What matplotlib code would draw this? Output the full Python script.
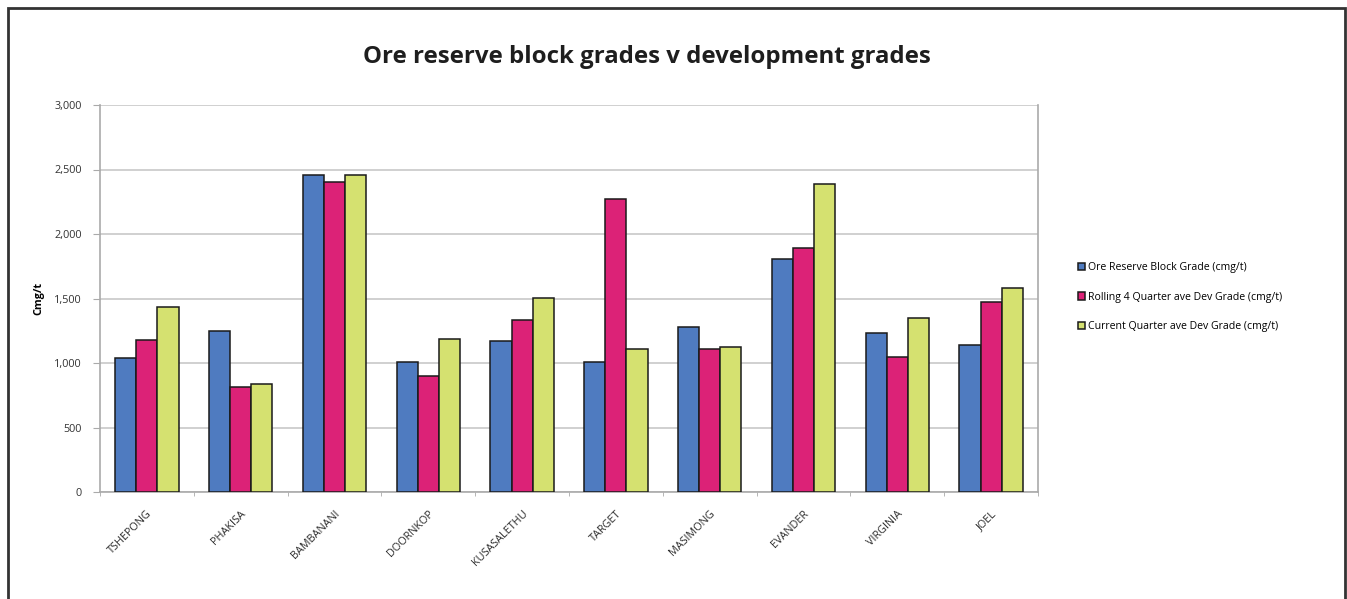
import matplotlib
matplotlib.use("Agg")
import matplotlib.pyplot as plt
import numpy as np
from matplotlib.patches import Rectangle
from matplotlib.ticker import FuncFormatter, FixedLocator

categories = ["TSHEPONG", "PHAKISA", "BAMBANANI", "DOORNKOP", "KUSASALETHU",
              "TARGET", "MASIMONG", "EVANDER", "VIRGINIA", "JOEL"]
ore_reserve = [1040, 1250, 2460, 1010, 1170, 1010, 1280, 1810, 1230, 1140]
rolling_4q = [1180, 815, 2405, 900, 1330, 2275, 1110, 1890, 1050, 1470]
current_q = [1435, 835, 2460, 1185, 1505, 1110, 1125, 2390, 1350, 1585]
series_names = ["Ore Reserve Block Grade (cmg/t)",
                "Rolling 4 Quarter ave Dev Grade (cmg/t)",
                "Current Quarter ave Dev Grade (cmg/t)"]
colors = ["#4F7BC0", "#DC2277", "#D5E170"]

plt.rcParams['font.family'] = ['Open Sans', 'DejaVu Sans']

fig = plt.figure(figsize=(13.47, 5.99), dpi=100)
fig.patch.set_facecolor("white")

# outer frame
fig.patches.append(Rectangle((8/1347, -0.05), (1345-8)/1347, 1.05 - 8/599,
                             transform=fig.transFigure, fill=False,
                             edgecolor="#333333", linewidth=2))

ax = fig.add_axes([100/1347, 1-492/599, (1038-100)/1347, (492-105)/599])

x = np.arange(len(categories))
w = 0.225
for i, (vals, c, n) in enumerate(zip([ore_reserve, rolling_4q, current_q], colors, series_names)):
    ax.bar(x + (i-1)*w, vals, width=w, color=c, edgecolor="#1A1A1A",
           linewidth=1.1, label=n, zorder=3)

ax.set_xlim(-0.5, len(categories)-0.5)
ax.set_ylim(0, 3000)
ax.set_yticks(np.arange(0, 3001, 500))
ax.yaxis.set_major_formatter(FuncFormatter(lambda v, p: f"{int(v):,}"))
ax.grid(axis="y", color="#C8C8C8", linewidth=1.2, zorder=0)
ax.set_xticks(x)
ax.set_xticklabels(categories, rotation=45, ha="right", rotation_mode="anchor",
                   fontsize=7.8, color="#2A2A2A")
ax.xaxis.set_minor_locator(FixedLocator(np.arange(-0.5, len(categories), 1)))
ax.tick_params(axis="x", which="major", length=0, pad=12)
ax.tick_params(axis="x", which="minor", length=3, color="#AAAAAA")
ax.tick_params(axis="y", length=5, color="#AAAAAA", labelsize=7.8, labelcolor="#333333", pad=8)

ax.spines["top"].set_visible(False)
for s in ["right", "left", "bottom"]:
    ax.spines[s].set_color("#AAAAAA")
    ax.spines[s].set_linewidth(1.2)

ax.set_ylabel("Cmg/t", fontsize=7.8, fontweight="bold", labelpad=7)

leg = ax.legend(loc="upper left", bbox_to_anchor=(1.038, 0.605), frameon=False,
                fontsize=7.6, handlelength=0.7, handleheight=0.7, handletextpad=0.3,
                labelspacing=1.75, borderaxespad=0)

fig.text(647/1347, 1-57/599, "Ore reserve block grades v development grades",
         ha="center", va="center", fontsize=17.3, fontweight="bold", color="#1E1E1E")

fig.savefig("out.png", dpi=100, facecolor="white")
